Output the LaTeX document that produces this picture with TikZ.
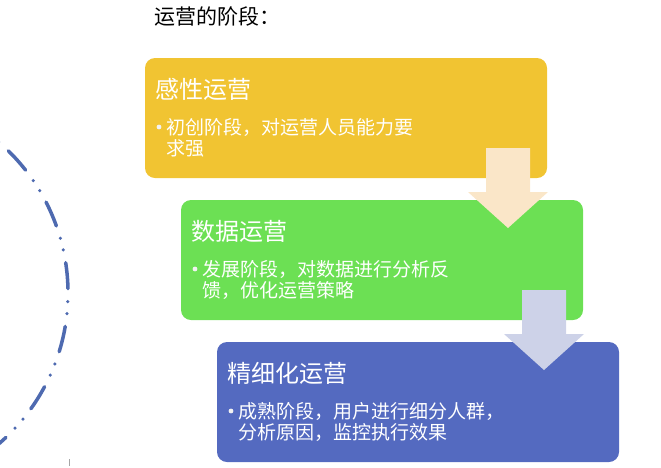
\documentclass[tikz,border=0pt]{standalone}
\usepackage{fontspec}
\newfontfamily\cjk{Noto Sans CJK SC}

\definecolor{stageyellow}{HTML}{F1C432}
\definecolor{stagegreen}{HTML}{6CE054}
\definecolor{stageblue}{HTML}{546AC0}
\definecolor{arrowpeach}{HTML}{FAE6C8}
\definecolor{arrowlilac}{HTML}{CDD2E8}
\definecolor{ringblue}{HTML}{4E6AB0}

\begin{document}
\begin{tikzpicture}[x=1pt,y=-1pt]
\tikzstyle{stage}=[rounded corners=10pt, minimum width=402pt, minimum height=120pt, inner sep=0pt]
\tikzstyle{stagename}=[anchor=west, inner sep=0pt, text=white, font=\cjk\fontsize{24}{28}\selectfont]
\tikzstyle{stagetext}=[anchor=west, inner sep=0pt, text=white, align=left, font=\cjk\fontsize{19}{21}\selectfont]
\tikzstyle{bullet}=[circle, fill=white!90!gray, inner sep=1.7pt]
\tikzstyle{ring}=[ringblue, line width=3.5pt, line cap=round, dash pattern=on 26pt off 13pt on 0pt off 12pt on 0pt off 13pt, dash phase=14pt]

\useasboundingbox (0,0) rectangle (661,467);

% dash-dot ring on the left
\draw[ring] (-131,293) ++(-60:199) arc[start angle=-60, end angle=60, radius=199];
\draw[gray!70, line width=0.8pt] (69,459) -- (69,466);

\draw (154,16) node[anchor=west, inner sep=0pt, font=\cjk\fontsize{21}{24}\selectfont] (title) {运营的阶段：};

% the three stages
\draw (346,118) node[stage, fill=stageyellow] (s1) {};
\draw (382,260) node[stage, fill=stagegreen] (s2) {};
\draw (418,402) node[stage, fill=stageblue] (s3) {};

\draw (155,89) node[stagename] (s1name) {感性运营};
\draw (159,127) node[bullet] (s1dot) {};
\draw (166,137.5) node[stagetext] (s1text) {初创阶段，对运营人员能力要\\求强};

\draw (191,231) node[stagename] (s2name) {数据运营};
\draw (195,269) node[bullet] (s2dot) {};
\draw (202,279.5) node[stagetext] (s2text) {发展阶段，对数据进行分析反\\馈，优化运营策略};

\draw (227,373) node[stagename] (s3name) {精细化运营};
\draw (231,411) node[bullet] (s3dot) {};
\draw (238,421.5) node[stagetext] (s3text) {成熟阶段，用户进行细分人群，\\分析原因，监控执行效果};

% block arrows between the stages
\fill[arrowpeach] (486,148) -- (530,148) -- (530,192) -- (548,192) -- (508,228) -- (468,192) -- (486,192) -- cycle;
\fill[arrowlilac] (522,290) -- (566,290) -- (566,334) -- (584,334) -- (544,370) -- (504,334) -- (522,334) -- cycle;
\end{tikzpicture}
\end{document}
